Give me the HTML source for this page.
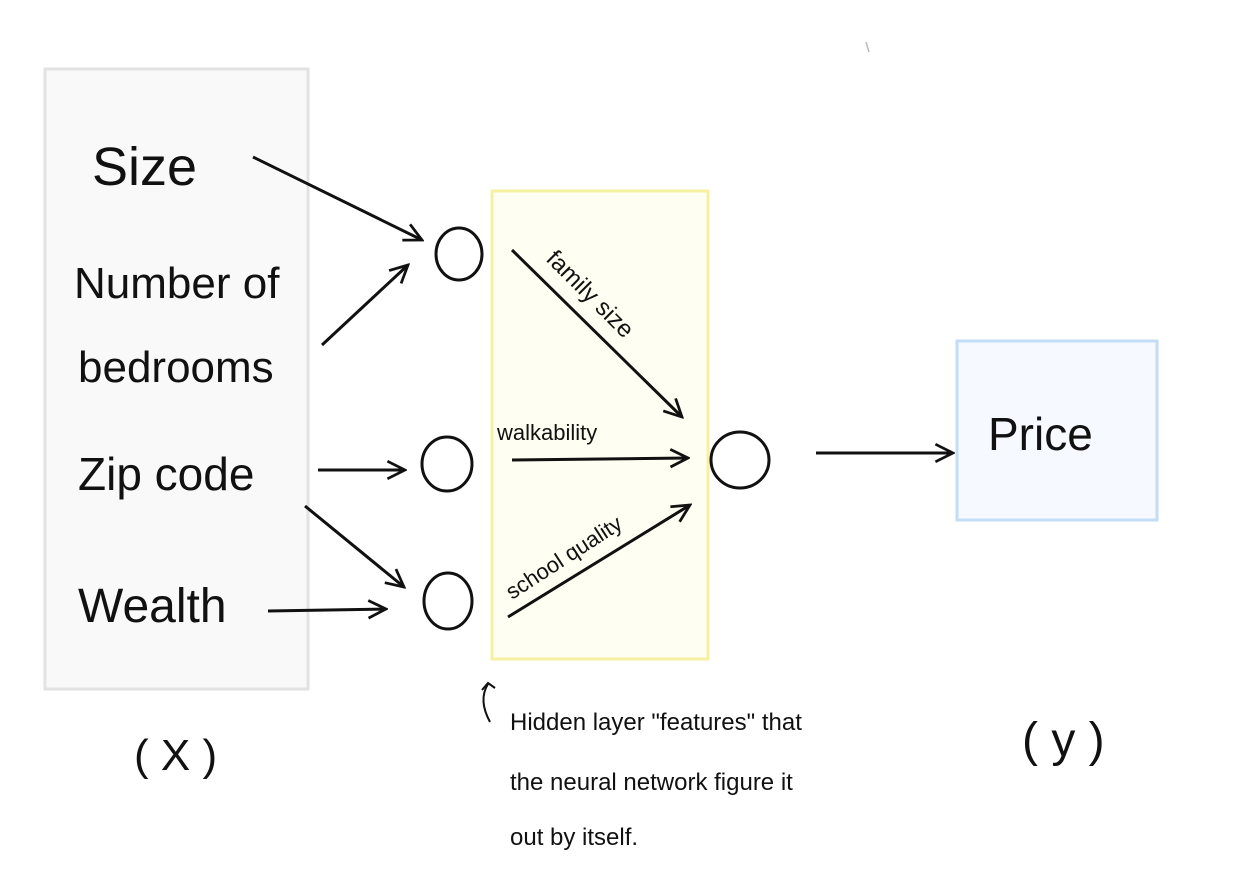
<!DOCTYPE html>
<html><head><meta charset="utf-8"><style>
html,body{margin:0;padding:0;background:#fff;}
svg{display:block}
text{font-family:"Liberation Sans",sans-serif;fill:#111;}
</style></head><body>
<svg width="1242" height="888" viewBox="0 0 1242 888" xmlns="http://www.w3.org/2000/svg">
<defs>
<marker id="a" viewBox="0 0 20 20" refX="18" refY="10" markerWidth="22" markerHeight="22" markerUnits="userSpaceOnUse" orient="auto">
<path d="M2 2 L18 10 L2 18" fill="none" stroke="#111" stroke-width="2.5"/>
</marker>
</defs>
<rect x="45" y="69" width="263" height="620" fill="#f9f9f9" stroke="#e2e2e2" stroke-width="3"/>
<rect x="492" y="191" width="216" height="468" fill="#fefef2" stroke="#f6f1a2" stroke-width="3"/>
<rect x="957" y="341" width="200" height="179" fill="#f6f9ff" stroke="#c3ddf6" stroke-width="3"/>
<line x1="866" y1="42" x2="869" y2="52" stroke="#bbb" stroke-width="1.5"/>
<text x="92" y="185" font-size="54">Size</text>
<text x="74" y="298" font-size="44">Number of</text>
<text x="78" y="382" font-size="44">bedrooms</text>
<text x="78" y="490" font-size="46">Zip code</text>
<text x="78" y="622" font-size="48">Wealth</text>
<text x="134" y="770" font-size="44">( X )</text>
<text x="988" y="450" font-size="46">Price</text>
<text x="1022" y="756" font-size="48">( y )</text>
<g fill="none" stroke="#111" stroke-width="3">
<ellipse cx="459" cy="254" rx="23" ry="26"/>
<ellipse cx="447" cy="464" rx="25" ry="27"/>
<ellipse cx="448" cy="601" rx="24" ry="28"/>
<ellipse cx="740" cy="460" rx="29" ry="28"/>
<g marker-end="url(#a)">
<line x1="253" y1="157" x2="422" y2="240"/>
<line x1="322" y1="345" x2="408" y2="265"/>
<line x1="318" y1="470" x2="405" y2="470"/>
<line x1="305" y1="506" x2="404" y2="587"/>
<line x1="268" y1="611" x2="386" y2="609"/>
<line x1="512" y1="250" x2="682" y2="417"/>
<line x1="512" y1="460" x2="688" y2="458"/>
<line x1="508" y1="617" x2="690" y2="505"/>
<line x1="816" y1="453" x2="953" y2="453"/>
</g>
</g>
<g fill="none" stroke="#111" stroke-width="2">
<path d="M490 722 Q478 700 488 684"/>
<path d="M482 690 L488 683 L495 688"/>
</g>
<text font-size="24" transform="translate(545 260) rotate(45)">family size</text>
<text x="497" y="440" font-size="22">walkability</text>
<text font-size="22" transform="translate(512 600) rotate(-33)">school quality</text>
<text x="510" y="730" font-size="24">Hidden layer "features" that</text>
<text x="510" y="790" font-size="24">the neural network figure it</text>
<text x="510" y="845" font-size="24">out by itself.</text>
</svg>
</body></html>
